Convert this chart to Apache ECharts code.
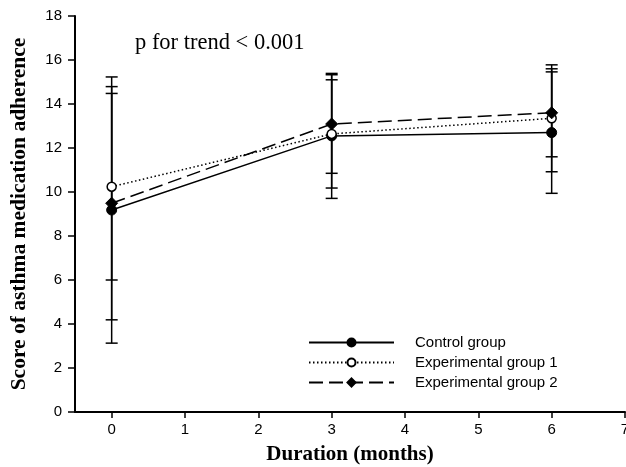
<!DOCTYPE html>
<html><head><meta charset="utf-8">
<script src="https://cdn.jsdelivr.net/npm/echarts@6/dist/echarts.min.js"></script>
<style>html,body{margin:0;padding:0;background:#fff}#c{width:626px;height:467px}</style>
</head><body><div id="c"></div>
<script>
const months = [0, 3, 6];
const xTicks = [0, 1, 2, 3, 4, 5, 6, 7];
const seriesNames = ['Control group', 'Experimental group 1', 'Experimental group 2'];
const controlMean = [9.18, 12.55, 12.7];
const controlSD = [6.05, 2.84, 2.76];
const exp1Mean = [10.24, 12.64, 13.35];
const exp1SD = [4.24, 2.46, 2.43];
const exp2Mean = [9.49, 13.09, 13.6];
const exp2SD = [5.3, 2.24, 2.0];

const FONT = 'Liberation Sans, Arial, sans-serif';
const SERIF = 'Liberation Serif, Times New Roman, serif';

function pairs(m) { return months.map((x, i) => [x, m[i]]); }
function errData(m, s) { return months.map((x, i) => [x, m[i] - s[i], m[i] + s[i]]); }

function errSeries(m, s) {
  return {
    type: 'custom',
    z: 1,
    silent: true,
    renderItem: function (params, api) {
      const x = api.value(0);
      const lo = api.coord([x, api.value(1)]);
      const hi = api.coord([x, api.value(2)]);
      const w = 6;
      const st = { stroke: '#000', lineWidth: 1.5 };
      return {
        type: 'group',
        children: [
          { type: 'line', shape: { x1: lo[0], y1: lo[1], x2: hi[0], y2: hi[1] }, style: st },
          { type: 'line', shape: { x1: lo[0] - w, y1: lo[1], x2: lo[0] + w, y2: lo[1] }, style: st },
          { type: 'line', shape: { x1: hi[0] - w, y1: hi[1], x2: hi[0] + w, y2: hi[1] }, style: st }
        ]
      };
    },
    encode: { x: 0, y: [1, 2] },
    data: errData(m, s)
  };
}

const chart = echarts.init(document.getElementById('c'), null, { renderer: 'canvas' });
chart.setOption({
  animation: false,
  backgroundColor: '#fff',
  grid: { left: 75, right: 1, top: 16, bottom: 55, outerBoundsMode: 'none', containLabel: false },
  legend: {
    orient: 'vertical',
    left: 308, top: 335, padding: 0,
    itemWidth: 85, itemHeight: 10, itemGap: 5,
    data: seriesNames,
    textStyle: { fontFamily: FONT, fontSize: 15, color: '#000', padding: [0, 0, 0, 16] }
  },
  xAxis: {
    type: 'value', min: -0.5, max: 7,
    name: 'Duration (months)', nameLocation: 'middle', nameGap: 32,
    nameTextStyle: { fontFamily: SERIF, fontWeight: 'bold', fontSize: 21, color: '#000' },
    axisLine: { onZero: false, lineStyle: { color: '#000', width: 2 } },
    axisTick: { show: true, customValues: xTicks, length: 6, lineStyle: { color: '#000', width: 1.5 } },
    axisLabel: { customValues: xTicks, fontFamily: FONT, fontSize: 15, color: '#000', margin: 10 },
    splitLine: { show: false }
  },
  yAxis: {
    type: 'value', min: 0, max: 18, interval: 2,
    name: 'Score of asthma medication adherence', nameLocation: 'middle', nameGap: 45,
    nameTextStyle: { fontFamily: SERIF, fontWeight: 'bold', fontSize: 21.5, color: '#000' },
    axisLine: { show: true, onZero: false, lineStyle: { color: '#000', width: 2 } },
    axisTick: { show: true, length: 7, lineStyle: { color: '#000', width: 1.5 } },
    axisLabel: { fontFamily: FONT, fontSize: 15, color: '#000', margin: 13 },
    splitLine: { show: false }
  },
  graphic: [{
    type: 'text', left: 135, top: 32,
    style: { text: 'p for trend < 0.001', font: '22.5px ' + SERIF, fill: '#000' }
  }],
  series: [
    errSeries(controlMean, controlSD),
    errSeries(exp1Mean, exp1SD),
    errSeries(exp2Mean, exp2SD),
    {
      name: seriesNames[0], type: 'line', z: 3, data: pairs(controlMean),
      symbol: 'circle', symbolSize: 10,
      lineStyle: { color: '#000', width: 1.5, type: 'solid' },
      itemStyle: { color: '#000', borderColor: '#000', borderWidth: 1 }
    },
    {
      name: seriesNames[1], type: 'line', z: 4, data: pairs(exp1Mean),
      symbol: 'circle', symbolSize: 9,
      lineStyle: { color: '#000', width: 1.5, type: [1.5, 2.5] },
      itemStyle: { color: '#fff', borderColor: '#000', borderWidth: 1.5 }
    },
    {
      name: seriesNames[2], type: 'line', z: 5, data: pairs(exp2Mean),
      symbol: 'diamond', symbolSize: 12,
      lineStyle: { color: '#000', width: 1.5, type: [14, 6] },
      itemStyle: { color: '#000', borderColor: '#000', borderWidth: 1 }
    }
  ]
});
</script></body></html>
